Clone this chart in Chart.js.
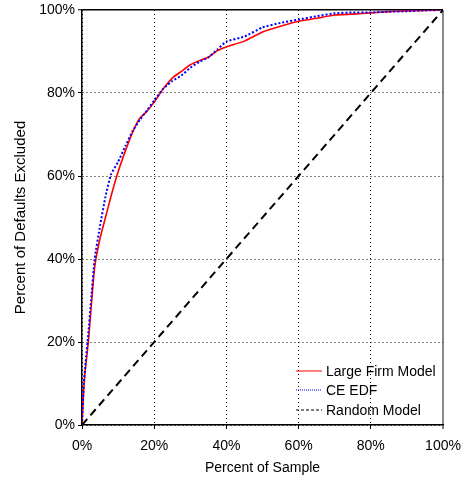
<!DOCTYPE html>
<html>
<head>
<meta charset="UTF-8">
<style>
  html, body { margin:0; padding:0; background:#fff; }
  #wrap { width:464px; height:487px; }
</style>
<script src="https://cdn.jsdelivr.net/npm/chart.js"></script>
</head>
<body>
<div id="wrap"><canvas id="c" width="464" height="487"></canvas></div>
<script>
// percent of sample (x) shared by both model curves
const sampleX = [0, 0.5, 1, 1.75, 2.5, 3.5, 5, 6.5, 8, 10, 12, 14, 16, 18, 20, 22.5, 25, 27.5, 30, 32.5, 35, 37.5, 40, 45, 50, 55, 60, 65, 70, 75, 80, 85, 90, 95, 100];
// percent of defaults excluded
const largeFirm = [0, 9, 14, 20, 28, 38, 45, 50, 55, 61, 66, 70.5, 73.9, 75.6, 77.8, 81, 83.6, 85.2, 86.8, 87.8, 88.6, 90.2, 91.1, 92.5, 94.7, 96.1, 97.3, 98.0, 98.8, 99.0, 99.3, 99.6, 99.8, 99.9, 100];
const ceEdf     = [0, 10, 15, 22, 30, 40, 48, 55, 60.3, 63.4, 67.2, 70.8, 73.5, 75.8, 78.2, 81, 82.9, 84.2, 86.1, 87.5, 88.6, 90.5, 92.4, 93.6, 95.8, 96.9, 97.7, 98.5, 99.2, 99.4, 99.4, 99.6, 99.7, 99.9, 100];
const randomX = [0, 100];
const randomY = [0, 100];
const seriesNames = ['Large Firm Model', 'CE EDF', 'Random Model'];

const pts = (xs, ys) => xs.map((x, i) => ({x: x, y: ys[i]}));

// legend drawn inside the plot, bottom right, no box
const innerLegend = {
  id: 'innerLegend',
  afterDraw(chart) {
    const c = chart.ctx, a = chart.chartArea;
    const rows = [54, 35, 15];
    c.save();
    c.font = '14px "Liberation Sans", Arial, sans-serif';
    c.textBaseline = 'middle';
    c.fillStyle = '#000';
    chart.data.datasets.forEach((ds, i) => {
      const y = a.bottom - rows[i];
      c.beginPath();
      c.strokeStyle = ds.borderColor;
      c.lineWidth = 1;
      c.setLineDash(ds.legendDash);
      c.moveTo(a.right - 147, y);
      c.lineTo(a.right - 121, y);
      c.stroke();
      c.setLineDash([]);
      c.fillText(ds.label, a.right - 117, y + 1);
    });
    c.restore();
  }
};

const tickFont = {family: '"Liberation Sans", Arial, sans-serif', size: 14};

new Chart(document.getElementById('c'), {
  type: 'line',
  data: {
    datasets: [
      {label: seriesNames[0], data: pts(sampleX, largeFirm), borderColor: '#ff0000', borderWidth: 1.6, legendDash: [], order: 2},
      {label: seriesNames[1], data: pts(sampleX, ceEdf), borderColor: '#0000ff', borderWidth: 2, borderDash: [2, 2], legendDash: [1, 1], order: 1},
      {label: seriesNames[2], data: pts(randomX, randomY), borderColor: '#000000', borderWidth: 2, borderDash: [8, 5], legendDash: [3, 2], order: 0}
    ]
  },
  options: {
    responsive: false,
    animation: false,
    layout: {padding: {top: 10, right: 21, left: 0, bottom: 10}},
    elements: {point: {radius: 0}, line: {tension: 0.15, fill: false}},
    plugins: {legend: {display: false}, tooltip: {enabled: false}},
    scales: {
      x: {
        type: 'linear', min: 0, max: 100,
        afterFit: s => { s.height = 52; s.paddingLeft = 0; s.paddingRight = 0; },
        ticks: {stepSize: 20, callback: v => v + '%', font: tickFont, color: '#000', padding: 9, maxRotation: 0},
        grid: {
          color: ctx => (ctx.tick && ctx.tick.value === 100) ? '#888' : '#000',
          lineWidth: ctx => (ctx.tick && ctx.tick.value === 100) ? 2 : 1,
          tickLength: 4, tickColor: '#000', tickWidth: 1
        },
        border: {color: '#000', width: 1.5, dash: ctx => (ctx.tick && ctx.tick.value === 100) ? [] : [1, 3]},
        title: {display: true, text: 'Percent of Sample', font: tickFont, color: '#000', padding: {top: 6, bottom: 0}}
      },
      y: {
        type: 'linear', min: 0, max: 100,
        afterFit: s => { s.width = 82; s.paddingTop = 0; s.paddingBottom = 0; },
        ticks: {stepSize: 20, callback: v => v + '%', font: tickFont, color: '#000', padding: 3},
        grid: {
          color: '#000',
          lineWidth: ctx => (ctx.tick && ctx.tick.value === 100) ? 1.5 : 1,
          tickLength: 4, tickColor: '#000', tickWidth: 1
        },
        border: {color: '#000', width: 1.5, dash: ctx => (ctx.tick && ctx.tick.value === 100) ? [] : [1, 3]},
        title: {display: true, text: 'Percent of Defaults Excluded', font: {family: tickFont.family, size: 15}, color: '#000', padding: {top: 12, bottom: 4}}
      }
    }
  },
  plugins: [innerLegend]
});
</script>
</body>
</html>
